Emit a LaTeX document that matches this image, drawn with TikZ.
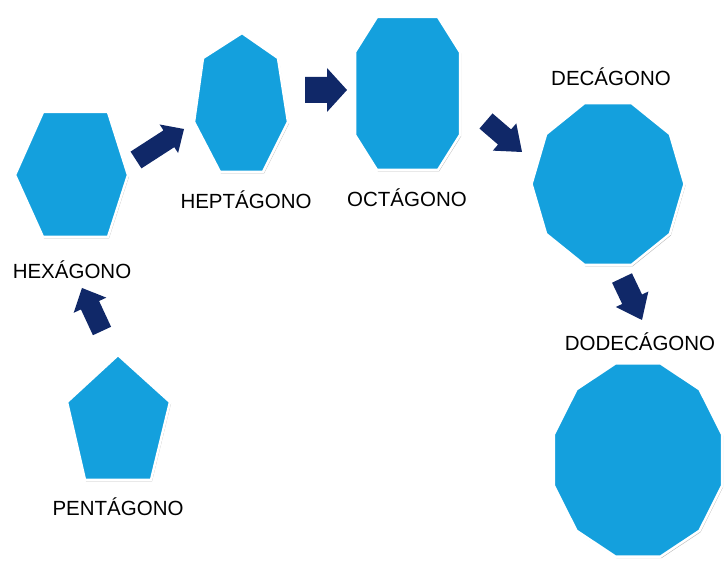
\documentclass[tikz,border=0pt]{standalone}
\usepackage{fontspec}
\setmainfont{Liberation Sans}
\usetikzlibrary{calc,shadows}
\definecolor{polyblue}{RGB}{20,160,221}
\definecolor{navyarrow}{RGB}{16,40,104}
\newcommand\blockarrow[5]{% #1 tail, #2 tip, #3 half shaft, #4 half head, #5 head length
  \coordinate (#1h) at ($(#2)!#5!(#1)$);
  \fill[arrowfill] ($(#1)!#3!90:(#2)$) -- ($(#1h)!#3!90:(#2)$) -- ($(#1h)!#4!90:(#2)$) -- (#2)
    -- ($(#1h)!#4!-90:(#2)$) -- ($(#1h)!#3!-90:(#2)$) -- ($(#1)!#3!-90:(#2)$) -- cycle;}
\begin{document}
\begin{tikzpicture}[x=1pt,y=-1pt,
  poly/.style={fill=polyblue, draw=white, line width=2.5pt, line join=miter,
    drop shadow={shadow xshift=1pt, shadow yshift=-1.5pt, opacity=.4, fill=black!70}},
  arrowfill/.style={fill=navyarrow},
  lbl/.style={font=\fontsize{20.5}{24}\selectfont, text=black, inner sep=0pt}]
\useasboundingbox (0,0) rectangle (724,561);
% polygons
\path[poly] (118,355) -- (170,402) -- (151,480) -- (85,480) -- (67,402) -- cycle;
\path[poly] (15,175) -- (43,112) -- (108,112) -- (128,175) -- (108,237) -- (43,237) -- cycle;
\path[poly] (242,33) -- (278,58) -- (288,122) -- (263,172) -- (220,172) -- (194,122) -- (203,58) -- cycle;
\path[poly] (377,17) -- (438,17) -- (460,52) -- (460,135) -- (438,170) -- (377,170) -- (355,135) -- (355,52) -- cycle;
\path[poly, shift={(608,184)}] (0:76.5pt and 85pt) \foreach \a in {36,72,...,324}{ -- (\a:76.5pt and 85pt)} -- cycle;
\path[poly, shift={(638,460)}] (15:87pt and 100pt) \foreach \a in {45,75,...,345}{ -- (\a:87pt and 100pt)} -- cycle;
% labels
\node[lbl] (tpent) at (118,507) {PENTÁGONO};
\node[lbl] (thex) at (72,270) {HEXÁGONO};
\node[lbl] (thep) at (246,200) {HEPTÁGONO};
\node[lbl] (toct) at (407,198) {OCTÁGONO};
\node[lbl] (tdec) at (611,77) {DECÁGONO};
\node[lbl] (tdod) at (640,342) {DODECÁGONO};
% arrows
\coordinate (a1s) at (102,331); \coordinate (a1t) at (82,288);
\coordinate (a2s) at (136,160); \coordinate (a2t) at (184,129);
\coordinate (a3s) at (305,90);  \coordinate (a3t) at (347,90);
\coordinate (a4s) at (486,121); \coordinate (a4t) at (522,152);
\coordinate (a5s) at (622,278); \coordinate (a5t) at (642,320);
\blockarrow{a1s}{a1t}{10pt}{18pt}{19pt}
\blockarrow{a2s}{a2t}{10pt}{17pt}{18pt}
\blockarrow{a3s}{a3t}{13pt}{22pt}{20pt}
\blockarrow{a4s}{a4t}{10pt}{18pt}{23pt}
\blockarrow{a5s}{a5t}{11pt}{18pt}{23pt}
\end{tikzpicture}
\end{document}
